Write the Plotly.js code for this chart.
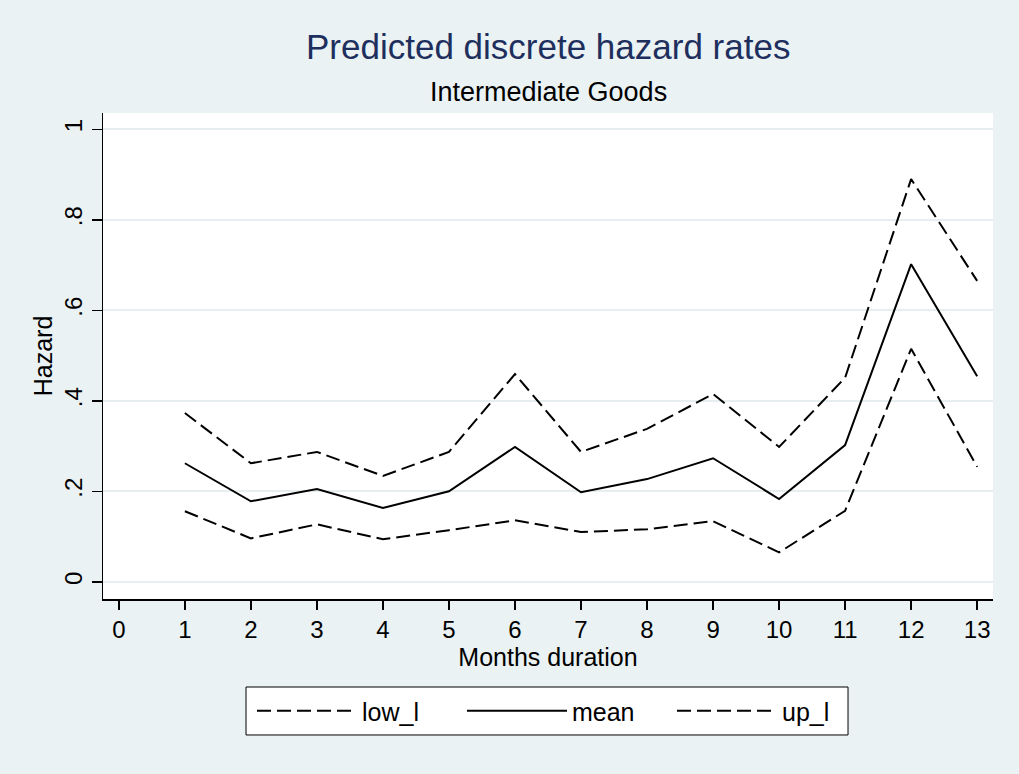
<!DOCTYPE html>
<html>
<head>
<meta charset="utf-8">
<script src="https://cdn.plot.ly/plotly-3.0.1.min.js"></script>
<style>html,body{margin:0;padding:0;background:#EAF2F3;}#chart{width:1019px;height:774px;}</style>
</head>
<body>
<div id="chart"></div>
<script>
const months = [1,2,3,4,5,6,7,8,9,10,11,12,13];
const lowL  = [0.156,0.096,0.127,0.094,0.114,0.136,0.110,0.116,0.134,0.065,0.157,0.515,0.254];
const meanH = [0.262,0.178,0.205,0.163,0.200,0.298,0.198,0.227,0.273,0.183,0.302,0.702,0.454];
const upL   = [0.373,0.262,0.287,0.234,0.287,0.459,0.287,0.338,0.415,0.298,0.451,0.890,0.665];
const seriesNames = ['low_l','mean','up_l'];
const xTicks = [0,1,2,3,4,5,6,7,8,9,10,11,12,13];
const yTickVals = [0,0.2,0.4,0.6,0.8,1];
const yTickText = ['0','.2','.4','.6','.8','1'];

const FONT = 'Liberation Sans, Arial, sans-serif';
const DASH = '14px,6px';
const traces = [
  {x: months, y: lowL, name: seriesNames[0], mode: 'lines', line: {color: '#000', width: 2, dash: DASH}},
  {x: months, y: meanH, name: seriesNames[1], mode: 'lines', line: {color: '#000', width: 2}},
  {x: months, y: upL, name: seriesNames[2], mode: 'lines', line: {color: '#000', width: 2, dash: DASH}}
];
const layout = {
  width: 1019, height: 774,
  paper_bgcolor: '#EAF2F3', plot_bgcolor: '#FFFFFF',
  margin: {l: 103, r: 26, t: 113, b: 175},
  font: {family: FONT, color: '#000', size: 24},
  showlegend: true,
  legend: {orientation: 'h', x: 0.1674, xanchor: 'left', y: -0.2305, yanchor: 'middle',
    borderwidth: 0, bgcolor: 'rgba(0,0,0,0)',
    font: {family: FONT, size: 25, color: '#000'}, itemwidth: 100, entrywidth: 95, traceorder: 'normal'},
  shapes: [
    {type: 'rect', xref: 'paper', yref: 'paper', x0: 0.1607, x1: 0.8371, y0: -0.2798, y1: -0.1811,
     line: {color: '#000', width: 1}, fillcolor: '#FFFFFF', layer: 'below'}
  ],
  xaxis: {range: [-0.24, 13.24], tickvals: xTicks, ticks: 'outside', ticklen: 9, tickwidth: 1.5, tickcolor: '#000',
    showline: true, linecolor: '#000', linewidth: 1.5, showgrid: false, zeroline: false,
    tickfont: {size: 24}, title: {text: 'Months duration', font: {size: 25}, standoff: 2}},
  yaxis: {range: [-0.038, 1.036], tickvals: yTickVals, ticktext: yTickText, tickangle: -90,
    ticks: 'outside', ticklen: 10, tickwidth: 1.5, tickcolor: '#000',
    showline: true, linecolor: '#000', linewidth: 1.5, showgrid: true, gridcolor: '#E6EEF0', gridwidth: 2, zeroline: false,
    tickfont: {size: 24}, title: {text: 'Hazard', font: {size: 25}, standoff: 0}},
  annotations: [
    {text: 'Predicted discrete hazard rates', xref: 'paper', yref: 'paper', x: 0.5, y: 1, yshift: 67, xanchor: 'center', yanchor: 'middle',
     showarrow: false, font: {family: FONT, size: 35, color: '#1E2F5E'}},
    {text: 'Intermediate Goods', xref: 'paper', yref: 'paper', x: 0.5, y: 1, yshift: 21, xanchor: 'center', yanchor: 'middle',
     showarrow: false, font: {family: FONT, size: 27, color: '#000'}}
  ]
};
Plotly.newPlot('chart', traces, layout, {displayModeBar: false, staticPlot: true});
</script>
</body>
</html>
